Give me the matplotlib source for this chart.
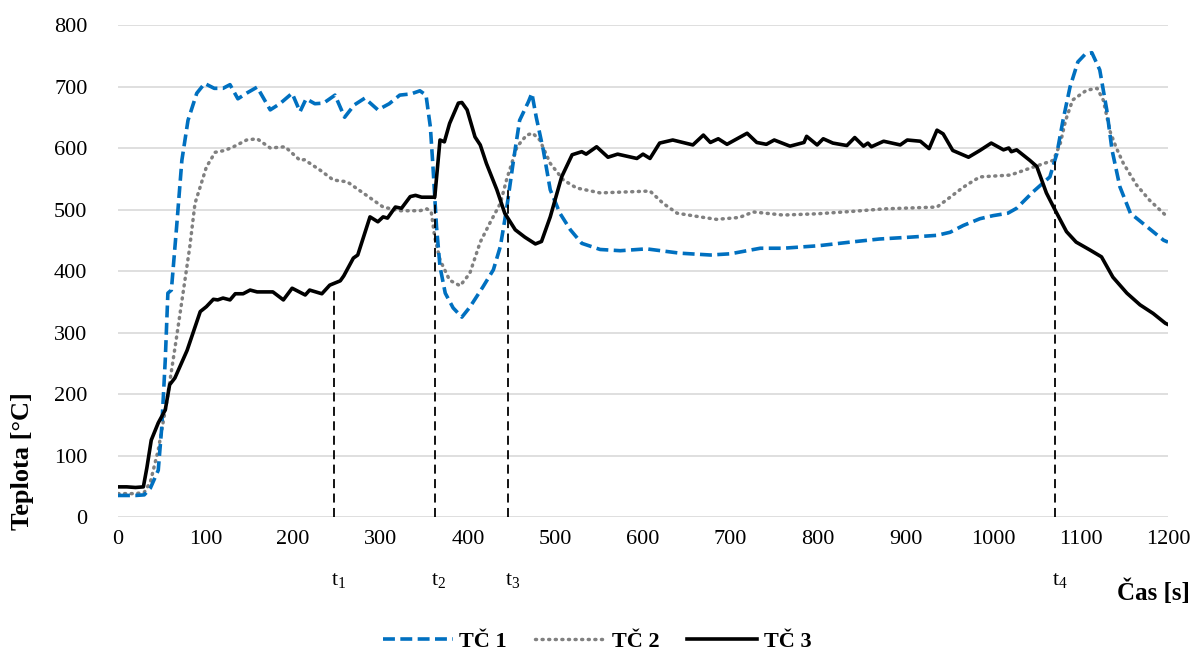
import matplotlib
matplotlib.use("Agg")
import matplotlib.pyplot as plt

plt.rcParams["font.family"] = ["Liberation Serif", "DejaVu Serif"]
plt.rcParams["mathtext.fontset"] = "stix"

# TČ 1 (blue dashed)
t_tc1 = [0, 10, 20, 30, 37, 46, 50, 54, 57, 61, 67, 73, 80, 90, 99, 110, 120, 128, 137, 148,
         159, 174, 185, 199, 208, 215, 225, 235, 248, 259, 270, 282, 297, 310, 322, 335, 345, 352,
         357, 360, 364, 368, 374, 383, 393, 402, 417, 429, 437, 444, 452, 459, 469, 473, 478, 486,
         494, 505, 517, 530, 551, 574, 604, 642, 677, 700, 734, 760, 800, 837, 870, 905, 936, 951,
         966, 985, 1000, 1017, 1027, 1046, 1065, 1073, 1080, 1088, 1097, 1105, 1113, 1122, 1130,
         1136, 1145, 1157, 1176, 1195, 1200]
tc1 = [35, 35, 35, 36, 47, 76, 146, 255, 364, 369, 472, 580, 645, 689, 705, 697, 697, 703, 680, 690,
       699, 662, 672, 689, 659, 680, 672, 673, 686, 650, 670, 681, 662, 672, 686, 688, 693, 686,
       634, 569, 472, 407, 364, 340, 325, 341, 374, 402, 440, 500, 580, 645, 675, 689, 650, 597,
       532, 494, 467, 445, 435, 433, 436, 429, 426, 428, 437, 437, 441, 447, 452, 455, 458, 463,
       474, 485, 490, 494, 502, 529, 553, 591, 645, 699, 740, 752, 755, 727, 662,
       597, 537, 494, 472, 450, 447]

# TČ 2 (grey dotted)
t_tc2 = [0, 10, 20, 30, 37, 46, 56, 67, 77, 82, 88, 94, 101, 111, 122, 132, 147, 159, 174, 191,
         208, 213, 231, 246, 262, 280, 303, 322, 345, 353, 358, 362, 368, 379, 391, 402, 414, 425,
         437, 444, 456, 467, 474, 482, 494, 509, 524, 551, 589, 608, 623, 639, 665, 684, 710, 726,
         760, 799, 840, 875, 936, 951, 963, 970, 985, 1020, 1042, 1069, 1077, 1083, 1091, 1107,
         1119, 1126, 1134, 1141, 1149, 1164, 1179, 1197, 1200]
tc2 = [38, 38, 38, 40, 57, 109, 190, 293, 390, 439, 510, 537, 569, 593, 596, 602, 613, 615, 600, 602,
       580, 581, 564, 548, 545, 527, 504, 498, 498, 501, 496, 455, 418, 385, 376, 396, 447, 478,
       510, 548, 602, 621, 624, 613, 575, 548, 535, 527, 529, 530, 510, 494, 488, 484, 487, 496,
       491, 493, 497, 501, 504, 520, 533, 540, 553, 556, 567, 580, 608, 645, 678, 694,
       697, 678, 626, 600, 575, 540, 515, 491, 488]

# TČ 3 (black solid)
t_tc3 = [0, 10, 20, 29, 33, 38, 46, 54, 59, 65, 79, 94, 101, 109, 114, 120, 128, 134, 143, 151,
         159, 177, 189, 199, 214, 219, 233, 242, 254, 258, 269, 274, 288, 297, 303, 308, 317, 324,
         334, 340, 347, 359, 362, 368, 373, 379, 389, 393, 399, 408, 414, 421, 433, 442, 454, 465,
         477, 484, 494, 507, 519, 530, 535, 547, 560, 571, 593, 600, 608, 619, 634, 657, 669, 677,
         686, 696, 719, 730, 741, 750, 768, 784, 787, 799, 806, 817, 833, 842, 852, 857, 861, 875,
         894, 902, 917, 927, 936, 943, 954, 972, 985, 998, 1012, 1018, 1021, 1027, 1042, 1050,
         1061, 1071, 1084, 1095, 1111, 1124, 1137, 1153, 1168, 1183, 1197, 1200]
tc3 = [49, 49, 48, 49, 80, 125, 153, 174, 215, 226, 271, 334, 342, 354, 353, 356, 353, 363, 363, 369,
       366, 366, 353, 372, 361, 369, 363, 377, 384, 392, 421, 426, 488, 480, 488, 486, 504, 502,
       521, 523, 520, 520, 520, 613, 610, 640, 673, 674, 662, 618, 605, 575, 532, 494, 467, 455,
       444, 448, 488, 553, 589, 594, 590, 602, 585, 590, 583, 590, 583, 608, 613, 605, 621, 609,
       615, 606, 624, 609, 606, 613, 603, 609, 619, 605, 615, 608, 604, 617, 603, 608, 602, 611,
       605, 613, 611, 599, 629, 623, 596, 585, 596, 608, 597, 600, 594, 597, 580, 570,
       527, 499, 464, 447, 434, 423, 390, 364, 345, 331, 315, 313]

# marked times
mark_t = [247, 362, 446, 1071]
mark_top = [376, 520, 537, 583]
mark_labels = [r"$\mathregular{t_1}$", r"$\mathregular{t_2}$", r"$\mathregular{t_3}$", r"$\mathregular{t_4}$"]

fig = plt.figure(figsize=(11.94, 6.51), dpi=100)
ax = fig.add_axes([118 / 1194, 1 - 517 / 651, 1050 / 1194, 492 / 651])

ax.plot(t_tc1, tc1, color="#0070C0", lw=2.6, dashes=(3.3, 1.5), label="TČ 1", zorder=3)
ax.plot(t_tc2, tc2, color="#808080", lw=2.5, dashes=(0.3, 1.6), dash_capstyle="round",
        label="TČ 2", zorder=2)
ax.plot(t_tc3, tc3, color="black", lw=2.6, label="TČ 3", zorder=4)

for x, top in zip(mark_t, mark_top):
    ax.plot([x, x], [0, top], color="black", lw=1.3, dashes=(5, 3), zorder=5)

for x, lab in zip(mark_t, mark_labels):
    ax.text(x - 4, -0.11, lab, transform=ax.get_xaxis_transform(), ha="left", va="top",
            fontsize=16)

ax.set_xlim(0, 1200)
ax.set_ylim(0, 800)
ax.set_xticks(range(0, 1201, 100))
ax.set_yticks(range(0, 801, 100))
ax.yaxis.grid(True, color="#d9d9d9", lw=1.2)
ax.set_axisbelow(True)
for s in ax.spines.values():
    s.set_visible(False)
ax.tick_params(axis="both", length=0, labelsize=16)
ax.tick_params(axis="y", pad=22)
ax.tick_params(axis="x", pad=9)

fig.text(23 / 1194, 1 - 461 / 651, "Teplota [°C]", rotation=90, ha="center", va="center",
         fontsize=19, fontweight="bold")
fig.text(1190 / 1194, 1 - 592 / 651, "Čas [s]", ha="right", va="center",
         fontsize=18, fontweight="bold")

leg = fig.legend(loc="center", bbox_to_anchor=(0.5, 1 - 642 / 651), ncol=3, frameon=False,
                 handlelength=3.15, columnspacing=1.25, handletextpad=0.3,
                 prop={"weight": "bold", "size": 16})

fig.savefig("out.png", dpi=100)
